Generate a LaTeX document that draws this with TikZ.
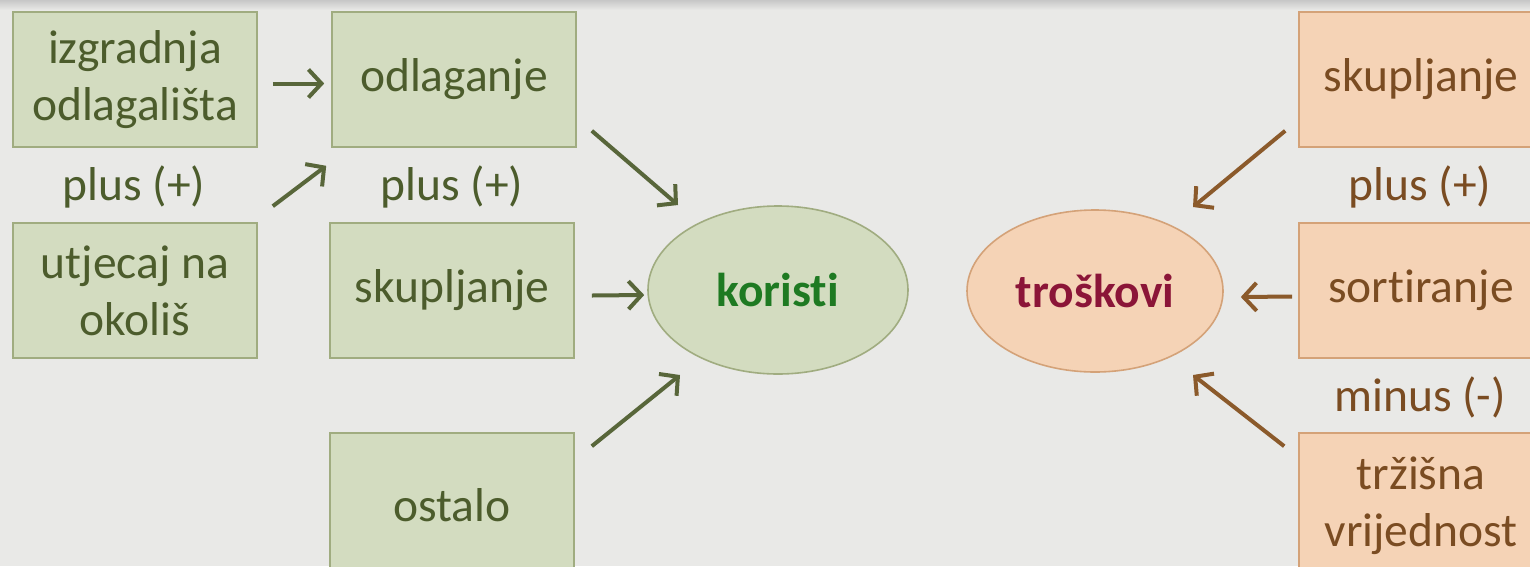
\documentclass[tikz,border=0pt]{standalone}
\usepackage{fontspec}
\setmainfont[Ligatures={NoCommon}]{Carlito}
\usetikzlibrary{arrows.meta,shapes.geometric}
\definecolor{bgc}{RGB}{233,233,231}
\definecolor{gfill}{RGB}{211,220,192}
\definecolor{gdraw}{RGB}{160,172,128}
\definecolor{gtext}{RGB}{76,92,44}
\definecolor{ktext}{RGB}{30,122,34}
\definecolor{garrow}{RGB}{88,102,58}
\definecolor{ofill}{RGB}{245,211,182}
\definecolor{odraw}{RGB}{212,162,120}
\definecolor{otext}{RGB}{122,76,34}
\definecolor{ttext}{RGB}{139,21,56}
\definecolor{oarrow}{RGB}{139,90,43}
\begin{document}
\begin{tikzpicture}[x=1pt,y=-1pt,
  txt/.style={font=\fontsize{47.5}{57}\selectfont, align=center},
  gbox/.style={txt, draw=gdraw, fill=gfill, line width=1.6pt, text=gtext,
    minimum width=244pt, minimum height=135pt, inner sep=0pt},
  obox/.style={txt, draw=odraw, fill=ofill, line width=1.6pt, text=otext,
    minimum width=244pt, minimum height=135pt, inner sep=0pt},
  lbl/.style={txt, inner sep=0pt},
  garr/.style={draw=garrow, line width=4pt, -{Straight Barb[length=13pt,width=28pt,line width=4pt]}},
  oarr/.style={draw=oarrow, line width=4pt, -{Straight Barb[length=13pt,width=28pt,line width=4pt]}}
]
\useasboundingbox (0,0) rectangle (1530,566);
\clip (0,0) rectangle (1530,566);
\fill[bgc] (0,0) rectangle (1530,566);
\shade[top color=black!22, bottom color=bgc] (0,0) rectangle (1530,10);

% left green
\node[gbox] (A) at (135,79.5) {izgradnja\\odlagališta};
\node[lbl, text=gtext] (pl1) at (134,187) {plus (+)};
\node[gbox] (B) at (135,290.5) {utjecaj na\\okoliš};
\node[gbox] (C) at (454,79.5) {odlaganje};
\node[lbl, text=gtext] (pl2) at (452,187) {plus (+)};
\node[gbox] (D) at (452,290.5) {skupljanje};
\node[gbox, minimum height=145pt] (E) at (452,505.5) {ostalo};
\node[txt, ellipse, draw=gdraw, fill=gfill, line width=1.6pt, text=ktext,
  minimum width=260pt, minimum height=168pt, inner sep=0pt, font=\fontsize{47.5}{57}\selectfont\bfseries] (K) at (778,290) {koristi};

% right orange
\node[txt, ellipse, draw=odraw, fill=ofill, line width=1.6pt, text=ttext,
  minimum width=256pt, minimum height=162pt, inner sep=0pt, font=\fontsize{47.5}{57}\selectfont\bfseries] (T) at (1095,291) {troškovi};
\node[obox] (R1) at (1421,79.5) {skupljanje};
\node[lbl, text=otext] (pl3) at (1420,187) {plus (+)};
\node[obox] (R2) at (1421,290.5) {sortiranje};
\node[lbl, text=otext] (mn) at (1420,397) {minus (-)};
\node[obox, minimum height=145pt] (R3) at (1421,505.5) {tržišna\\vrijednost};

% arrows
\draw[garr] ([shift={(15,4)}]A.east) -- ([shift={(-7,4)}]C.west);
\draw[garr] ([shift={(15,-16)}]B.north east) -- ([shift={(-5,18)}]C.south west);
\draw[garr] ([shift={(15,-17)}]C.south east) -- ([shift={(-100,-85)}]K.center);
\draw[garr] ([shift={(17,5)}]D.east) -- ([shift={(-3,5)}]K.west);
\draw[garr] ([shift={(17,14)}]E.north east) -- ([shift={(-98,85)}]K.center);

\draw[oarr] ([shift={(-13,-17)}]R1.south west) -- ([shift={(98,-84)}]T.center);
\draw[oarr] ([shift={(-6,6)}]R2.west) -- ([shift={(17,6)}]T.east);
\draw[oarr] ([shift={(-14,14)}]R3.north west) -- ([shift={(98,84)}]T.center);
\end{tikzpicture}
\end{document}
